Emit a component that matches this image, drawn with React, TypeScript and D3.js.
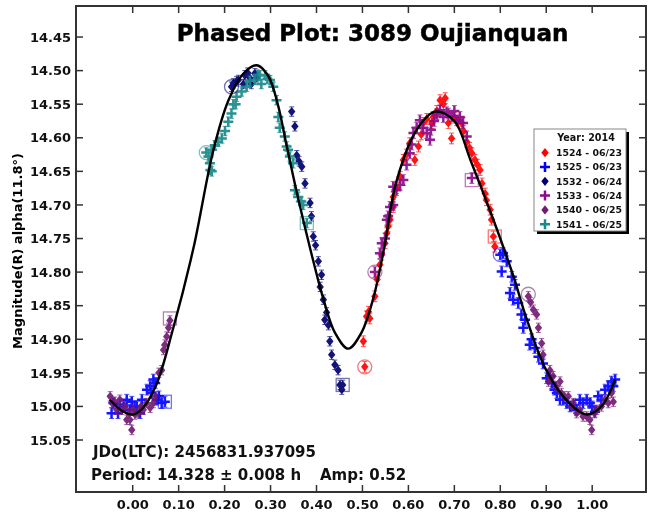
import React from "react";
import * as d3 from "d3";

// ---- data (phase, magnitude) ----
const xTicks = [0.0, 0.1, 0.2, 0.3, 0.4, 0.5, 0.6, 0.7, 0.8, 0.9, 1.0];
const yTicks = [14.45, 14.5, 14.55, 14.6, 14.65, 14.7, 14.75, 14.8, 14.85, 14.9, 14.95, 15.0, 15.05];

const s1524: [number, number][] = [
  [0.502, 14.903], [0.505, 14.941], [0.509, 14.866], [0.513, 14.859], [0.516, 14.869], [0.527, 14.836],
  [0.532, 14.811], [0.538, 14.789], [0.542, 14.774], [0.549, 14.757], [0.553, 14.742], [0.556, 14.732],
  [0.56, 14.722], [0.567, 14.703], [0.567, 14.688], [0.574, 14.675], [0.582, 14.658], [0.589, 14.633],
  [0.596, 14.625], [0.603, 14.608], [0.614, 14.633], [0.622, 14.613], [0.628, 14.595], [0.632, 14.578],
  [0.64, 14.572], [0.651, 14.578], [0.654, 14.569], [0.662, 14.56], [0.669, 14.544], [0.676, 14.55],
  [0.68, 14.541], [0.687, 14.578], [0.694, 14.601], [0.7, 14.57], [0.709, 14.575], [0.716, 14.578],
  [0.72, 14.59], [0.727, 14.606], [0.733, 14.615], [0.738, 14.623], [0.745, 14.633], [0.75, 14.64],
  [0.756, 14.648], [0.76, 14.668], [0.767, 14.683], [0.77, 14.693], [0.778, 14.707], [0.781, 14.722],
  [0.785, 14.747], [0.788, 14.762],
];

const s1525: [number, number][] = [
  [-0.046, 15.01], [-0.042, 14.995], [-0.032, 15.01], [-0.028, 14.997], [-0.02, 15.0], [-0.013, 14.99],
  [-0.006, 15.005], [-0.002, 14.993], [0.004, 15.0], [0.009, 15.0], [0.016, 15.01], [0.02, 14.99],
  [0.031, 14.975], [0.038, 14.97], [0.041, 14.98], [0.045, 14.96], [0.049, 14.965], [0.052, 14.99],
  [0.057, 14.985], [0.063, 14.995], [0.07, 14.993],
  [0.8, 14.774], [0.803, 14.799], [0.806, 14.772], [0.814, 14.784], [0.821, 14.831], [0.825, 14.807],
  [0.828, 14.841], [0.832, 14.819], [0.839, 14.846], [0.846, 14.863], [0.85, 14.883], [0.854, 14.871],
  [0.864, 14.908], [0.868, 14.9], [0.875, 14.913], [0.883, 14.926], [0.893, 14.936], [0.901, 14.958],
  [0.908, 14.955], [0.912, 14.965], [0.918, 14.975], [0.923, 14.98], [0.93, 14.99], [0.937, 14.99],
  [0.945, 14.995], [0.952, 15.0], [0.96, 14.998], [0.966, 15.005], [0.973, 14.99], [0.98, 14.995],
  [0.988, 14.99], [0.995, 14.995], [1.0, 15.0], [1.006, 15.008], [1.013, 14.985], [1.02, 14.99],
  [1.028, 14.975], [1.035, 14.97], [1.042, 14.963], [1.046, 14.97], [1.05, 14.96],
];

const s1532: [number, number][] = [
  [0.215, 14.524], [0.219, 14.519], [0.226, 14.516], [0.23, 14.514], [0.241, 14.52], [0.244, 14.507],
  [0.25, 14.503], [0.255, 14.511], [0.258, 14.52], [0.266, 14.504], [0.27, 14.51],
  [0.346, 14.561], [0.353, 14.583], [0.357, 14.626], [0.362, 14.635], [0.368, 14.643], [0.375, 14.668],
  [0.386, 14.697], [0.389, 14.717], [0.393, 14.747], [0.398, 14.76], [0.404, 14.784], [0.408, 14.822],
  [0.411, 14.804], [0.415, 14.841], [0.418, 14.871], [0.422, 14.86], [0.426, 14.879], [0.429, 14.903],
  [0.433, 14.923], [0.44, 14.938], [0.447, 14.946], [0.451, 14.968], [0.455, 14.975], [0.457, 14.968],
];

const s1533: [number, number][] = [
  [0.527, 14.8], [0.538, 14.772], [0.542, 14.757], [0.549, 14.75], [0.553, 14.722], [0.556, 14.717],
  [0.56, 14.703], [0.567, 14.7], [0.567, 14.673], [0.574, 14.678], [0.582, 14.67], [0.589, 14.663],
  [0.596, 14.64], [0.603, 14.623], [0.607, 14.61], [0.611, 14.593], [0.618, 14.585], [0.625, 14.574],
  [0.632, 14.585], [0.64, 14.593], [0.647, 14.603], [0.649, 14.588], [0.656, 14.575], [0.662, 14.565],
  [0.669, 14.559], [0.676, 14.569], [0.683, 14.562], [0.687, 14.564], [0.694, 14.568], [0.7, 14.56],
  [0.705, 14.574], [0.712, 14.569], [0.719, 14.578], [0.727, 14.598], [0.738, 14.66],
];

const s1540: [number, number][] = [
  [-0.049, 14.985], [-0.045, 14.995], [-0.039, 14.993], [-0.035, 15.005], [-0.028, 14.99], [-0.024, 15.005],
  [-0.017, 15.0], [-0.013, 15.02], [-0.009, 15.01], [-0.006, 15.02], [-0.002, 15.035], [0.001, 15.005],
  [0.005, 15.012], [0.012, 15.01], [0.018, 15.0], [0.023, 15.005], [0.03, 14.995], [0.038, 15.002],
  [0.045, 14.995], [0.05, 14.985], [0.057, 14.95], [0.063, 14.946], [0.067, 14.916], [0.07, 14.908],
  [0.074, 14.896], [0.078, 14.883], [0.081, 14.872],
  [0.861, 14.836], [0.866, 14.845], [0.872, 14.856], [0.879, 14.863], [0.883, 14.883], [0.89, 14.906],
  [0.893, 14.923], [0.905, 14.963], [0.908, 14.946], [0.915, 14.955], [0.922, 14.97], [0.93, 14.963],
  [0.933, 14.98], [0.94, 14.985], [0.948, 14.985], [0.955, 15.0], [0.959, 14.995], [0.966, 15.01],
  [0.973, 15.005], [0.98, 15.015], [0.988, 15.015], [0.995, 15.02], [0.999, 15.035], [1.005, 15.01],
  [1.01, 15.005], [1.02, 15.0], [1.028, 14.99], [1.035, 14.995], [1.042, 14.98], [1.046, 14.993],
];

const s1541: [number, number][] = [
  [0.16, 14.622], [0.165, 14.628], [0.168, 14.638], [0.169, 14.648], [0.172, 14.65], [0.172, 14.618],
  [0.179, 14.611], [0.186, 14.606], [0.194, 14.601], [0.201, 14.59], [0.208, 14.576], [0.215, 14.564],
  [0.219, 14.55], [0.224, 14.55], [0.226, 14.539], [0.237, 14.531], [0.248, 14.524], [0.255, 14.515],
  [0.266, 14.514], [0.272, 14.506], [0.277, 14.507], [0.28, 14.52], [0.288, 14.507], [0.293, 14.512],
  [0.299, 14.514], [0.306, 14.524], [0.313, 14.544], [0.317, 14.569], [0.32, 14.585], [0.331, 14.598],
  [0.335, 14.613], [0.338, 14.618], [0.342, 14.628], [0.349, 14.638], [0.353, 14.678], [0.36, 14.688],
  [0.367, 14.695], [0.371, 14.7], [0.379, 14.727],
];

// Fourier fit curve
const fitCurve: [number, number][] = [
  [-0.05, 14.99], [-0.02, 15.008], [0.0, 15.012], [0.02, 15.004], [0.05, 14.97], [0.088, 14.884],
  [0.132, 14.765], [0.175, 14.62], [0.208, 14.545], [0.24, 14.505], [0.27, 14.492], [0.295, 14.508],
  [0.315, 14.548], [0.336, 14.615], [0.36, 14.69], [0.387, 14.767], [0.415, 14.84], [0.44, 14.89],
  [0.469, 14.914], [0.498, 14.89], [0.524, 14.838], [0.547, 14.765], [0.574, 14.665], [0.618, 14.588],
  [0.658, 14.561], [0.7, 14.575], [0.735, 14.633], [0.785, 14.722], [0.828, 14.805], [0.857, 14.869],
  [0.9, 14.946], [0.95, 14.995], [0.988, 15.012], [1.02, 15.0], [1.05, 14.96],
];

// first (circle) / last (square) points of each session
const sessionMarks: { id: string; shape: string; p: number; m: number }[] = [
  { id: "1525", shape: "square", p: 0.07, m: 14.993 },
  { id: "1540", shape: "square", p: 0.081, m: 14.869 },
  { id: "1541", shape: "circle", p: 0.16, m: 14.622 },
  { id: "1532", shape: "circle", p: 0.215, m: 14.524 },
  { id: "1541", shape: "square", p: 0.379, m: 14.727 },
  { id: "1532", shape: "square", p: 0.457, m: 14.968 },
  { id: "1524", shape: "circle", p: 0.505, m: 14.941 },
  { id: "1533", shape: "circle", p: 0.527, m: 14.8 },
  { id: "1533", shape: "square", p: 0.738, m: 14.663 },
  { id: "1524", shape: "square", p: 0.788, m: 14.747 },
  { id: "1525", shape: "circle", p: 0.8, m: 14.774 },
  { id: "1540", shape: "circle", p: 0.861, m: 14.833 },
];

const seriesIds = ["1524", "1525", "1532", "1533", "1540", "1541"];
const seriesDates = ["06/23", "06/23", "06/24", "06/24", "06/25", "06/25"];
const seriesData = [s1524, s1525, s1532, s1533, s1540, s1541];
const seriesMarker = ["diamond", "plus", "diamond", "plus", "diamond", "plus"];
const seriesColor = ["#ff0000", "#0000ff", "#00006e", "#8a0a8a", "#731a73", "#178a8a"];
const seriesErr = [0.008, 0.008, 0.007, 0.008, 0.007, 0.007];

const W = 657, H = 516;
const FL = 76, FR = 646, FT = 6, FB = 492;
const FONT = "'DejaVu Sans', sans-serif";

export default function App() {
  const x = d3.scaleLinear().domain([-0.1234, 1.1171]).range([FL, FR]);
  const y = d3.scaleLinear().domain([14.4038, 15.1274]).range([FT, FB]);

  const line = d3
    .line<[number, number]>()
    .x((d) => x(d[0]))
    .y((d) => y(d[1]))
    .curve(d3.curveCatmullRom.alpha(0.5));

  const marker = (kind: string, cx: number, cy: number, color: string, key: string) => {
    if (kind === "diamond") {
      return (
        <path key={key} d={`M${cx},${cy - 4.6}L${cx + 3.7},${cy}L${cx},${cy + 4.6}L${cx - 3.7},${cy}Z`} fill={color} />
      );
    }
    return (
      <path
        key={key}
        d={`M${cx - 5},${cy}H${cx + 5}M${cx},${cy - 5}V${cy + 5}`}
        stroke={color}
        strokeWidth={2.5}
        fill="none"
      />
    );
  };

  return (
    <svg width={W} height={H} style={{ position: "absolute", left: 0, top: 0, background: "#fff" }} fontFamily={FONT}>
      <rect x={0} y={0} width={W} height={H} fill="#fff" />
      {/* data points */}
      {seriesData.map((data, si) => (
        <g key={seriesIds[si]} opacity={0.92}>
          {data.map((d, i) => {
            const cx = x(d[0]);
            const cy = y(d[1]);
            const e = seriesErr[si];
            const y0 = y(d[1] - e);
            const y1 = y(d[1] + e);
            return (
              <g key={i}>
                <path
                  d={`M${cx},${y0}V${y1}M${cx - 2.5},${y0}H${cx + 2.5}M${cx - 2.5},${y1}H${cx + 2.5}`}
                  stroke={seriesColor[si]}
                  strokeWidth={1}
                  fill="none"
                  opacity={0.75}
                />
                {marker(seriesMarker[si], cx, cy, seriesColor[si], "m")}
              </g>
            );
          })}
        </g>
      ))}
      {/* session start/end marks */}
      {sessionMarks.map((s, i) => {
        const c = seriesColor[seriesIds.indexOf(s.id)];
        const cx = x(s.p);
        const cy = y(s.m);
        return s.shape === "circle" ? (
          <circle key={i} cx={cx} cy={cy} r={7} fill="none" stroke={c} strokeOpacity={0.55} strokeWidth={1.3} />
        ) : (
          <rect key={i} x={cx - 6.5} y={cy - 6.5} width={13} height={13} fill="none" stroke={c} strokeOpacity={0.55} strokeWidth={1.3} />
        );
      })}
      {/* fit */}
      <path d={line(fitCurve) || ""} fill="none" stroke="#000" strokeWidth={2.4} />

      {/* frame */}
      <rect x={FL} y={FT} width={FR - FL} height={FB - FT} fill="none" stroke="#333" strokeWidth={2} />
      {xTicks.map((t) => (
        <g key={t}>
          <line x1={x(t)} x2={x(t)} y1={FB} y2={FB - 7} stroke="#333" strokeWidth={1.5} />
          <line x1={x(t)} x2={x(t)} y1={FT} y2={FT + 7} stroke="#333" strokeWidth={1.5} />
          <text x={x(t)} y={509} textAnchor="middle" fontSize={13} fontWeight="bold" fill="#111">
            {t.toFixed(2)}
          </text>
        </g>
      ))}
      {yTicks.map((t) => (
        <g key={t}>
          <line x1={FL} x2={FL + 7} y1={y(t)} y2={y(t)} stroke="#333" strokeWidth={1.5} />
          <line x1={FR} x2={FR - 7} y1={y(t)} y2={y(t)} stroke="#333" strokeWidth={1.5} />
          <text x={71} y={y(t)} dy="0.36em" textAnchor="end" fontSize={13} fontWeight="bold" fill="#111">
            {t.toFixed(2)}
          </text>
        </g>
      ))}

      {/* title */}
      <text x={372.5} y={41} textAnchor="middle" fontSize={23} fontWeight="bold" fill="#000" stroke="#000" strokeWidth={0.5}>
        Phased Plot: 3089 Oujianquan
      </text>
      {/* y label */}
      <text
        transform={`translate(22,${(FT + FB) / 2 + 2}) rotate(-90)`}
        textAnchor="middle"
        fontSize={13}
        fontWeight="bold"
        fill="#000"
      >
        Magnitude(R) alpha(11.8°)
      </text>

      {/* info text */}
      <text x={93} y={457} fontSize={15} fontWeight="bold" fill="#111">
        JDo(LTC): 2456831.937095
      </text>
      <text x={91} y={480} fontSize={15} fontWeight="bold" fill="#111">
        Period: 14.328 ± 0.008 h
      </text>
      <text x={320} y={480} fontSize={15} fontWeight="bold" fill="#111">
        Amp: 0.52
      </text>

      {/* legend */}
      <g>
        <rect x={537} y={132} width={92} height={102} fill="#000" />
        <rect x={534} y={129} width={92} height={102} fill="#fff" stroke="#888" strokeWidth={1} />
        <text x={586} y={140.5} textAnchor="middle" fontSize={9.6} fontWeight="bold" fill="#111">
          Year: 2014
        </text>
        {seriesIds.map((id, i) => {
          const ly = 152.7 + i * 14.3;
          return (
            <g key={id}>
              {marker(seriesMarker[i], 545, ly, seriesColor[i], "lm")}
              <text x={556} y={ly} dy="0.36em" fontSize={9.4} fontWeight="bold" fill="#111">
                {`${id} - ${seriesDates[i]}`}
              </text>
            </g>
          );
        })}
      </g>
    </svg>
  );
}
